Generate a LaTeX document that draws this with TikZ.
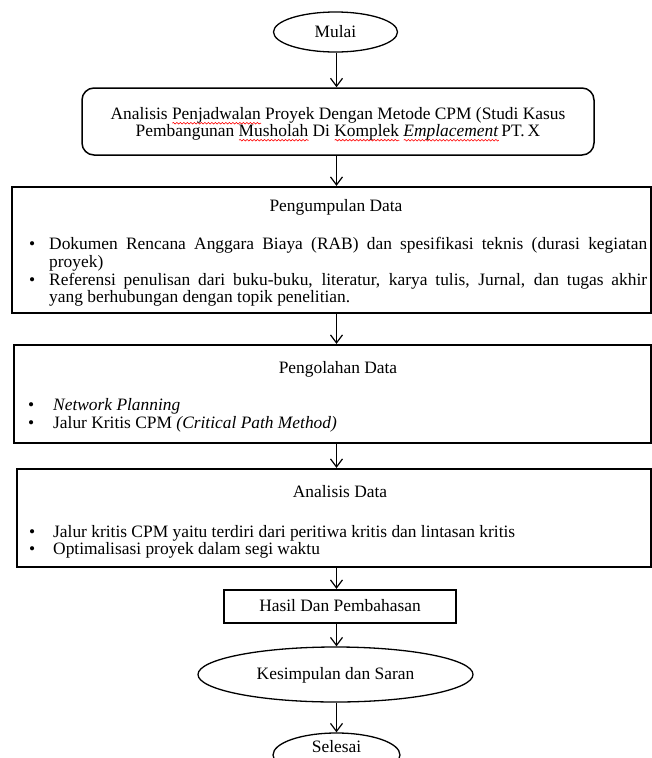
\documentclass[tikz,border=0pt]{standalone}
\usepackage{fontspec}
\setmainfont{Liberation Serif}
\usetikzlibrary{shapes.geometric,arrows.meta,decorations.pathmorphing}
\newlength\sqw
\newcommand\redsq[1]{\settowidth\sqw{#1}\rlap{\tikz[baseline=0pt]{\draw[red, line width=0.6pt, sharp corners, decorate,
    decoration={snake, amplitude=0.8pt, segment length=3.5pt}] (0pt,-3.5pt) -- (\sqw,-3.5pt);}}#1}
\newcommand\bfnt{\fontsize{17.4}{17.8}\selectfont}
\newcommand\bitem[2]{\par\noindent\hangindent=#1\hangafter=1\makebox[#1][l]{\rule{0pt}{12pt}\textbullet}#2\par}
\hyphenpenalty=10000
\exhyphenpenalty=10000
\begin{document}
\begin{tikzpicture}[x=1pt,y=-1pt,
  every node/.style={font=\bfnt},
  arr/.style={-{Straight Barb[length=8pt,width=12pt]}, line width=1.2pt},
  thickbox/.style={draw, rectangle, line width=2.2pt, inner sep=0pt},
  oval/.style={draw, ellipse, line width=1.3pt, inner sep=0pt, text height=12pt, text depth=2pt},
  listbox/.style={anchor=north west, inner sep=0pt, align=justify},
]
\useasboundingbox (0,0) rectangle (652,758);
\clip (0,0) rectangle (652,758);

\node[oval, minimum width=124pt, minimum height=40pt] (mulai) at (335.5,32) {Mulai};

\node[draw, rounded corners=12pt, line width=1.5pt, minimum width=512pt, minimum height=67pt,
      align=center, font=\fontsize{17.4}{17}\selectfont] (judul) at (338,121.5)
 {\rule{0pt}{18pt}Analisis \redsq{Penjadwalan} Proyek Dengan Metode CPM (Studi Kasus\\
  Pembangunan \redsq{Musholah} Di \redsq{Komplek} \redsq{\textit{Emplacement}}\,PT.\,X};

\node[thickbox, minimum width=639pt, minimum height=126pt] (kumpul) at (331.5,250) {};
\node[anchor=base] (tkumpul) at (336,211) {Pengumpulan Data};
\node[listbox, text width=618pt] (lkumpul) at (29,231.5)
 {\bitem{20pt}{Dokumen Rencana Anggara Biaya (RAB) dan spesifikasi teknis (durasi kegiatan\linebreak proyek)}%
  \bitem{20pt}{Referensi penulisan dari buku-buku, literatur, karya tulis, Jurnal, dan tugas akhir\linebreak yang berhubungan dengan topik penelitian.}};

\node[thickbox, minimum width=637pt, minimum height=98pt] (olah) at (332.5,394) {};
\node[anchor=base] (tolah) at (338,373) {Pengolahan Data};
\node[listbox, text width=600pt, font=\fontsize{17.4}{18}\selectfont] (lolah) at (28,392)
 {\bitem{25pt}{\textit{Network Planning}}%
  \bitem{25pt}{Jalur Kritis CPM \textit{(Critical Path Method)}}};

\node[thickbox, minimum width=634pt, minimum height=98pt] (analisis) at (334,518) {};
\node[anchor=base] (tanalisis) at (340,497) {Analisis Data};
\node[listbox, text width=600pt, font=\fontsize{17.4}{16.5}\selectfont] (lanalisis) at (29,521)
 {\bitem{24pt}{Jalur kritis CPM yaitu terdiri dari peritiwa kritis dan lintasan kritis}%
  \bitem{24pt}{Optimalisasi proyek dalam segi waktu}};

\node[thickbox, minimum width=232pt, minimum height=33pt, text height=12pt, text depth=2pt] (hasil) at (340,606.5) {Hasil Dan Pembahasan};

\node[oval, minimum width=275pt, minimum height=55pt] (simpul) at (335.5,674.5) {Kesimpulan dan Saran};

\node[oval, minimum width=127pt, minimum height=44pt, text depth=18pt] (selesai) at (336.5,755) {Selesai};

\coordinate (sp) at (336.5,0);
\foreach \a/\b in {mulai/judul, judul/kumpul, kumpul/olah, olah/analisis, analisis/hasil, hasil/simpul, simpul/selesai}
  \draw[arr] (\a.south -| sp) -- (\b.north -| sp);
\end{tikzpicture}
\end{document}
